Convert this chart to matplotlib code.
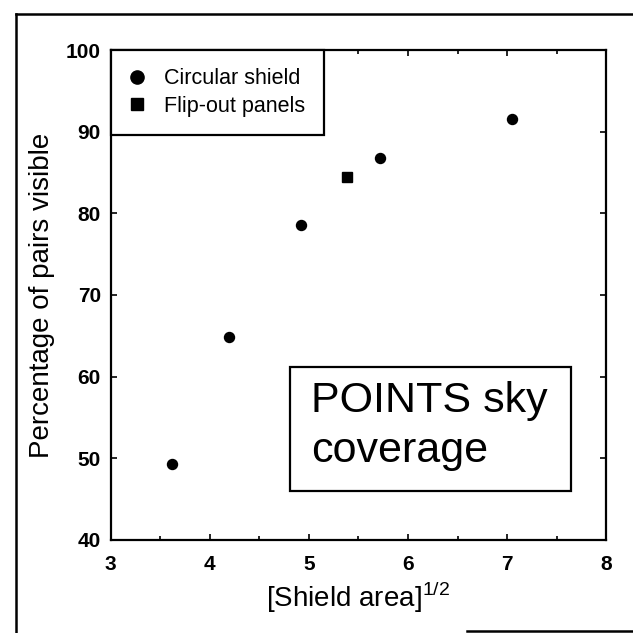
import matplotlib
matplotlib.use('Agg')
import matplotlib.pyplot as plt
from matplotlib.lines import Line2D
from matplotlib.patches import Rectangle
from matplotlib.ticker import MultipleLocator

plt.rcParams['font.family'] = ['Liberation Sans', 'DejaVu Sans']
plt.rcParams['mathtext.fontset'] = 'custom'
plt.rcParams['mathtext.rm'] = 'Liberation Sans'

# circular shield runs
circ_x = [3.62, 4.19, 4.92, 5.72, 7.05]
circ_y = [49.3, 64.9, 78.6, 86.8, 91.6]
# flip-out panels
flip_x = [5.38]
flip_y = [84.5]

xticks = [3, 4, 5, 6, 7, 8]
yticks = [40, 50, 60, 70, 80, 90, 100]

fig = plt.figure(figsize=(6.33, 6.33), dpi=100)
ax = fig.add_axes([0.1746, 0.147, 0.7832, 0.774])

ax.plot(circ_x, circ_y, 'o', color='k', markersize=7.2, ls='')
ax.plot(flip_x, flip_y, 's', color='k', markersize=7.2, ls='')

ax.set_xlim(3, 8)
ax.set_ylim(40, 100)
ax.set_xticks(xticks)
ax.set_yticks(yticks)
ax.xaxis.set_minor_locator(MultipleLocator(0.5))
ax.tick_params(which='both', direction='in', top=True, right=True, width=1.2)
ax.tick_params(which='major', length=4)
ax.tick_params(which='minor', length=3)
ax.tick_params(axis='x', pad=11, labelsize=15)
ax.tick_params(axis='y', pad=7, labelsize=15)
for lab in ax.get_xticklabels() + ax.get_yticklabels():
    lab.set_fontweight('bold')
for s in ax.spines.values():
    s.set_linewidth(1.6)

ax.set_xlabel(r'[Shield area]$^{\mathrm{1/2}}$', fontsize=20, labelpad=4)
ax.set_ylabel('Percentage of pairs visible', fontsize=20, labelpad=8)

# legend in the upper left corner
handles = [Line2D([], [], marker='o', ls='', color='k', markersize=9.5),
           Line2D([], [], marker='s', ls='', color='k', markersize=9)]
leg = ax.legend(handles, ['Circular shield', 'Flip-out panels'],
                loc='upper left', bbox_to_anchor=(0, 1), borderaxespad=0,
                fontsize=15.5, fancybox=False, framealpha=1, edgecolor='k',
                borderpad=0.85, labelspacing=0.3, handlelength=0.8,
                handletextpad=0.85)
leg.get_frame().set_linewidth(1.6)

# boxed annotation
ax.add_patch(Rectangle((4.81, 46.0), 2.83, 15.2, fill=False, ec='k', lw=1.6))
ax.text(5.02, 55.7, 'POINTS sky', fontsize=31, va='baseline', ha='left')
ax.text(5.02, 49.5, 'coverage', fontsize=31, va='baseline', ha='left')

# outer frame of the scanned page
frame = dict(color='k', lw=1.8, transform=fig.transFigure)
W = 633.0
fig.add_artist(Line2D([16 / W, 16 / W], [0, 1 - 14 / W], **frame))
fig.add_artist(Line2D([16 / W, 1], [1 - 14 / W, 1 - 14 / W], **frame))
fig.add_artist(Line2D([467 / W, 1], [2 / W, 2 / W], **frame))

fig.savefig('out.png', dpi=100)
